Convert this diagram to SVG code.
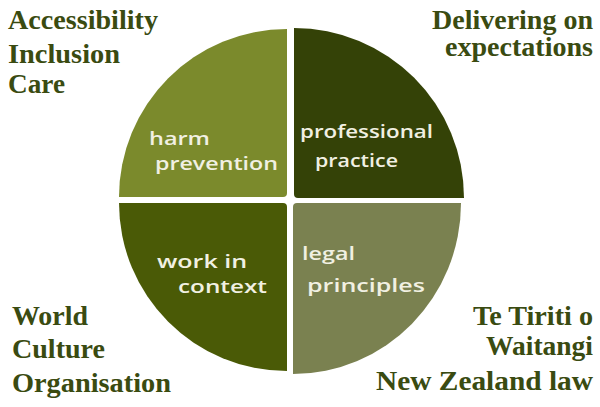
<svg xmlns="http://www.w3.org/2000/svg" width="600" height="407" viewBox="0 0 600 407">
<style>
.lbl{font-family:"Liberation Serif","Times New Roman",serif;font-weight:bold;font-size:27px;fill:#3a4b11}
.hand{font-family:"Open Sans","Noto Sans",sans-serif;font-size:18px;fill:#f1f0e2;font-weight:600}
</style>
<rect width="600" height="407" fill="#ffffff"/>
<g id="node-harm-prevention">
<path d="M119,197 A168,168 0 0 1 287,29 L287,193 Q287,197 283,197 Z" fill="#7b8a2c"/>
<text class="hand" x="149" y="145" textLength="61" lengthAdjust="spacingAndGlyphs">harm</text>
<text class="hand" x="155" y="170" textLength="123" lengthAdjust="spacingAndGlyphs">prevention</text>
</g>
<g id="node-professional-practice">
<path d="M294,28 A170,170 0 0 1 464,198 L298,198 Q294,198 294,194 Z" fill="#344207"/>
<text class="hand" x="300" y="138" textLength="133" lengthAdjust="spacingAndGlyphs">professional</text>
<text class="hand" x="315" y="167" textLength="83" lengthAdjust="spacingAndGlyphs">practice</text>
</g>
<g id="node-work-in-context">
<path d="M119,203 L283,203 Q287,203 287,207 L287,371 A168,168 0 0 1 119,203 Z" fill="#4a5a06"/>
<text class="hand" x="157" y="268" textLength="90" lengthAdjust="spacingAndGlyphs">work in</text>
<text class="hand" x="178" y="293" textLength="89" lengthAdjust="spacingAndGlyphs">context</text>
</g>
<g id="node-legal-principles">
<path d="M297,203 L461,203 A168,171 0 0 1 293,374 L293,207 Q293,203 297,203 Z" fill="#7a8150"/>
<text class="hand" x="302" y="260" textLength="53" lengthAdjust="spacingAndGlyphs">legal</text>
<text class="hand" x="307" y="292" textLength="118" lengthAdjust="spacingAndGlyphs">principles</text>
</g>
<g id="connectors"></g>
<g id="labels">
<text class="lbl"><tspan x="8" y="29" textLength="150" lengthAdjust="spacingAndGlyphs">Accessibility</tspan><tspan x="8" y="63" textLength="112" lengthAdjust="spacingAndGlyphs">Inclusion</tspan><tspan x="8" y="93" textLength="57" lengthAdjust="spacingAndGlyphs">Care</tspan></text>
<text class="lbl"><tspan x="432" y="29" textLength="161" lengthAdjust="spacingAndGlyphs">Delivering on</tspan><tspan x="445" y="56" textLength="148" lengthAdjust="spacingAndGlyphs">expectations</tspan></text>
<text class="lbl"><tspan x="12" y="325" textLength="76" lengthAdjust="spacingAndGlyphs">World</tspan><tspan x="12" y="358" textLength="93" lengthAdjust="spacingAndGlyphs">Culture</tspan><tspan x="12" y="392" textLength="159" lengthAdjust="spacingAndGlyphs">Organisation</tspan></text>
<text class="lbl"><tspan x="473" y="325" textLength="120" lengthAdjust="spacingAndGlyphs">Te Tiriti o</tspan><tspan x="486" y="355" textLength="107" lengthAdjust="spacingAndGlyphs">Waitangi</tspan><tspan x="376" y="390" textLength="217" lengthAdjust="spacingAndGlyphs">New Zealand law</tspan></text>
</g>
</svg>
